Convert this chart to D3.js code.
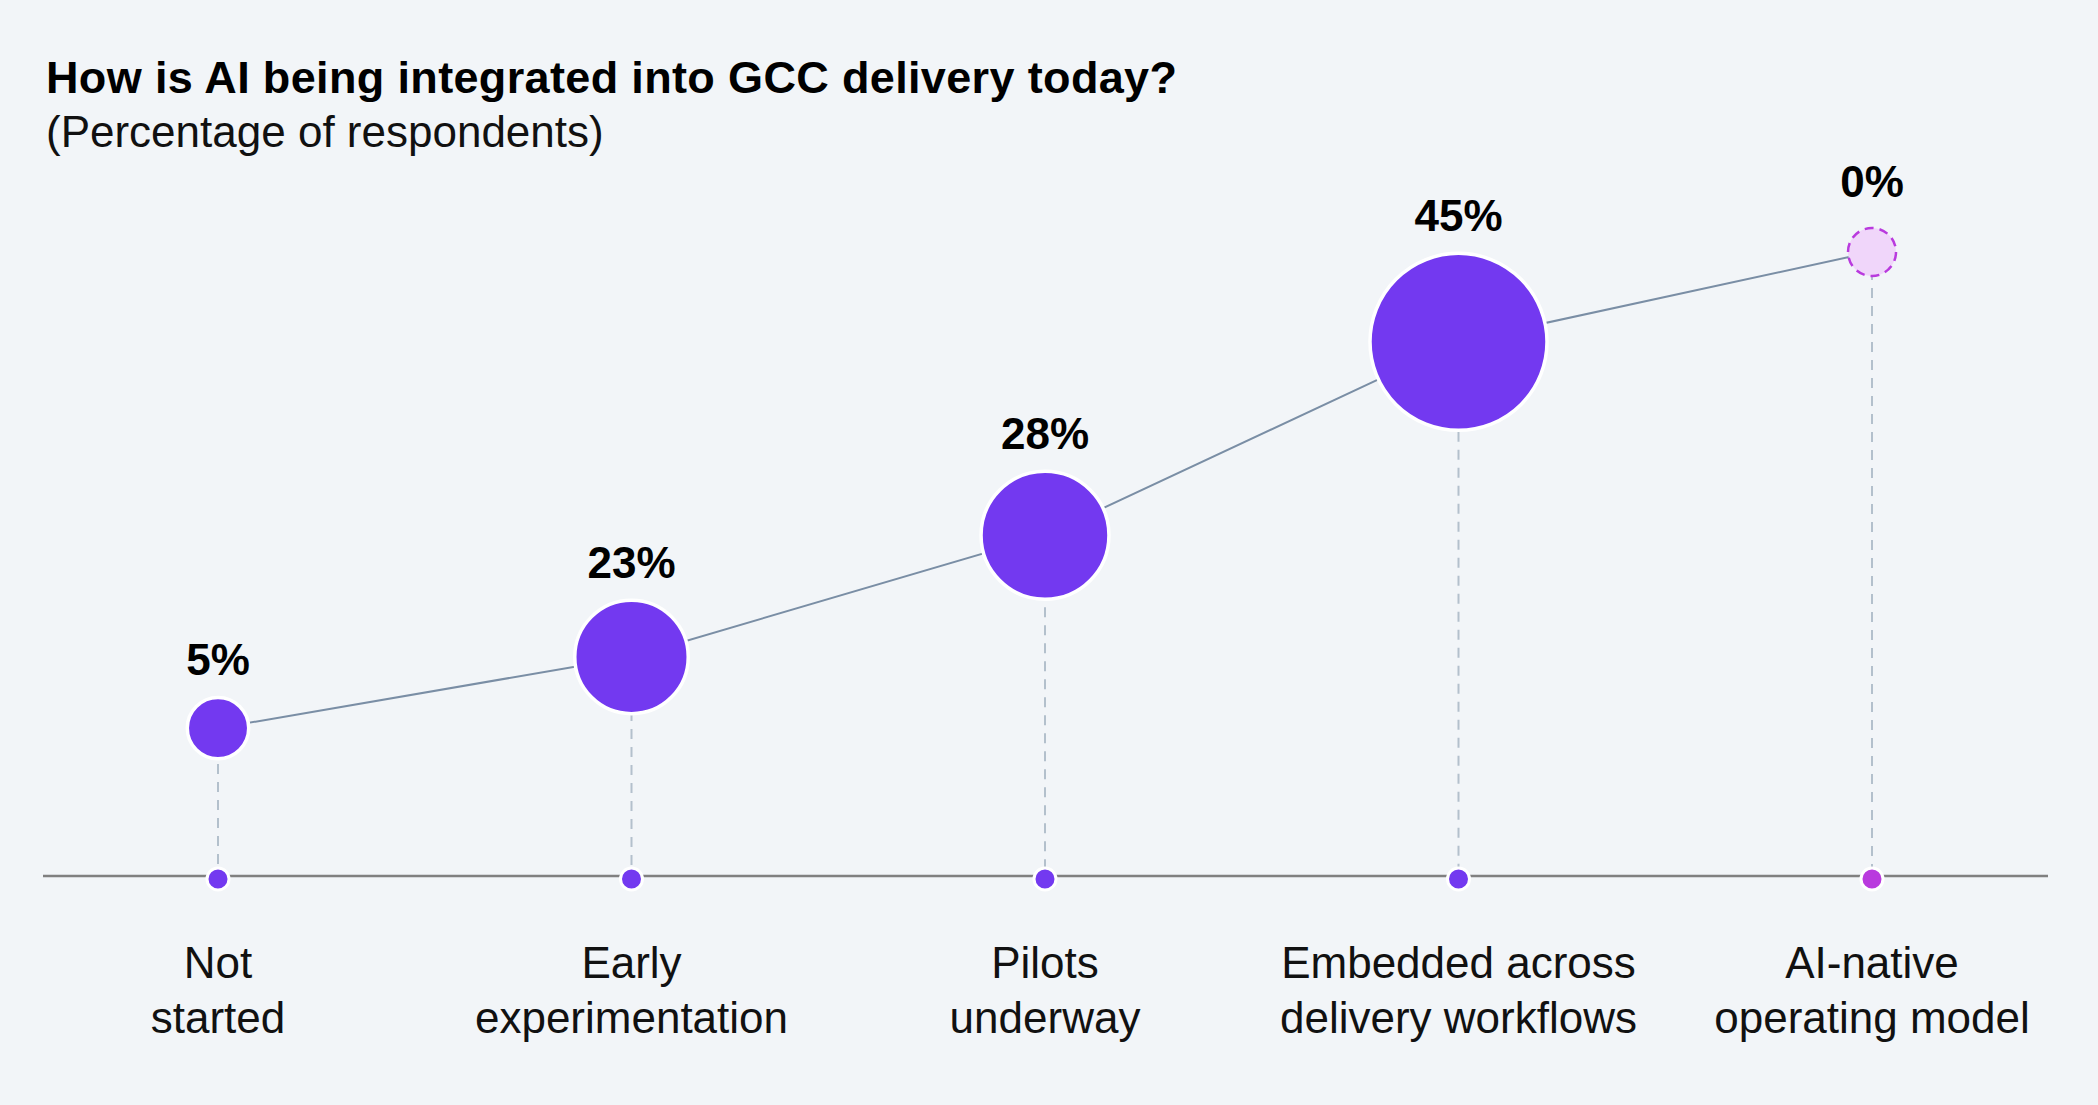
<!DOCTYPE html>
<html lang="en">
  <head>
    <meta charset="utf-8">
    <title>AI integration in GCC delivery</title>
    <script src="https://cdn.jsdelivr.net/npm/d3@7"></script>
    <style>
      html, body { margin: 0; padding: 0; background: #f2f5f8; }
      svg { display: block; }
    </style>
  </head>
  <body>
    <script>

    var w = 2098;
    var h = 1105;

    // stages, left to right
    var stageLines = [
      ["Not", "started"],
      ["Early", "experimentation"],
      ["Pilots", "underway"],
      ["Embedded across", "delivery workflows"],
      ["AI-native", "operating model"]
    ];
    var stages = stageLines.map(function(d) { return d.join(" "); });

    // share of respondents (%)
    var values = [5, 23, 28, 45, 0];

    // elevation of each stage on the maturity path (0 = baseline, 100 = top)
    var elevation = [23.7, 35.1, 54.6, 85.6, 100];

    var title = "How is AI being integrated into GCC delivery today?";
    var subtitle = "(Percentage of respondents)";

    var data = stages.map(function(s, i) {
      return { stage: s, lines: stageLines[i], value: values[i], level: elevation[i] };
    });

    var baseY = 876;

    var xScale = d3.scalePoint()
                   .domain(stages)
                   .range([218, 1872]);

    var yScale = d3.scaleLinear()
                   .domain([0, 100])
                   .range([baseY, 252]);

    var rScale = d3.scaleLinear()
                   .domain([0, 45])
                   .range([25, 90]);

    var purple = "#7339f0";
    var future = "#b93ade";

    var svg = d3.select("body")
                .append("svg")
                .attr("width", w)
                .attr("height", h);

    svg.append("rect")
       .attr("width", w)
       .attr("height", h)
       .attr("fill", "#f2f5f8");

    // titles
    svg.append("text")
       .attr("x", 46)
       .attr("y", 93)
       .attr("font-family", "'Liberation Sans', Arial, sans-serif")
       .attr("font-weight", "bold")
       .attr("font-size", "45px")
       .attr("letter-spacing", "0.35px")
       .attr("fill", "#000")
       .text(title);

    svg.append("text")
       .attr("x", 46)
       .attr("y", 147)
       .attr("font-family", "'Liberation Sans', Arial, sans-serif")
       .attr("font-size", "44px")
       .attr("fill", "#111")
       .text(subtitle);

    // baseline
    svg.append("line")
       .attr("x1", 43)
       .attr("x2", 2048)
       .attr("y1", baseY)
       .attr("y2", baseY)
       .attr("stroke", "#808080")
       .attr("stroke-width", 2.5);

    // dashed drop lines
    svg.selectAll("line.drop")
       .data(data)
       .enter()
       .append("line")
       .attr("class", "drop")
       .attr("x1", function(d) { return xScale(d.stage); })
       .attr("x2", function(d) { return xScale(d.stage); })
       .attr("y1", function(d) { return yScale(d.level); })
       .attr("y2", baseY)
       .attr("stroke", "#b3c0cc")
       .attr("stroke-width", 2)
       .attr("stroke-dasharray", "10,8");

    // path connecting the stages
    var line = d3.line()
                 .x(function(d) { return xScale(d.stage); })
                 .y(function(d) { return yScale(d.level); });

    svg.append("path")
       .datum(data)
       .attr("d", line)
       .attr("fill", "none")
       .attr("stroke", "#7a8ea5")
       .attr("stroke-width", 2);

    // bubbles (0% stage drawn as a dashed placeholder)
    svg.selectAll("circle.bubble")
       .data(data)
       .enter()
       .append("circle")
       .attr("class", "bubble")
       .attr("cx", function(d) { return xScale(d.stage); })
       .attr("cy", function(d) { return yScale(d.level); })
       .attr("r", function(d) { return d.value === 0 ? rScale(d.value) - 1 : rScale(d.value) - 1.5; })
       .attr("fill", function(d) { return d.value === 0 ? "#f0d6fa" : purple; })
       .attr("stroke", function(d) { return d.value === 0 ? future : "#fff"; })
       .attr("stroke-width", function(d) { return d.value === 0 ? 2.5 : 3.5; })
       .attr("stroke-dasharray", function(d) { return d.value === 0 ? "9,6" : null; });

    // value labels
    svg.selectAll("text.value")
       .data(data)
       .enter()
       .append("text")
       .attr("class", "value")
       .attr("x", function(d) { return xScale(d.stage); })
       .attr("y", function(d) {
         return yScale(d.level) - rScale(d.value) - (d.value === 0 ? 30 : 21);
       })
       .attr("text-anchor", "middle")
       .attr("font-family", "'Liberation Sans', Arial, sans-serif")
       .attr("font-weight", "bold")
       .attr("font-size", "44px")
       .attr("fill", "#000")
       .text(function(d) { return d.value + "%"; });

    // baseline markers
    svg.selectAll("circle.tick")
       .data(data)
       .enter()
       .append("circle")
       .attr("class", "tick")
       .attr("cx", function(d) { return xScale(d.stage); })
       .attr("cy", baseY + 3)
       .attr("r", 11)
       .attr("fill", function(d) { return d.value === 0 ? future : purple; })
       .attr("stroke", "#fff")
       .attr("stroke-width", 3);

    // stage labels
    var labels = svg.selectAll("text.stage")
                    .data(data)
                    .enter()
                    .append("text")
                    .attr("class", "stage")
                    .attr("text-anchor", "middle")
                    .attr("font-family", "'Liberation Sans', Arial, sans-serif")
                    .attr("font-size", "44px")
                    .attr("fill", "#111");

    labels.selectAll("tspan")
          .data(function(d) { return d.lines.map(function(t) { return { t: t, x: xScale(d.stage) }; }); })
          .enter()
          .append("tspan")
          .attr("x", function(d) { return d.x; })
          .attr("y", function(d, i) { return 978 + i * 55; })
          .text(function(d) { return d.t; });

    </script>
  </body>
</html>
